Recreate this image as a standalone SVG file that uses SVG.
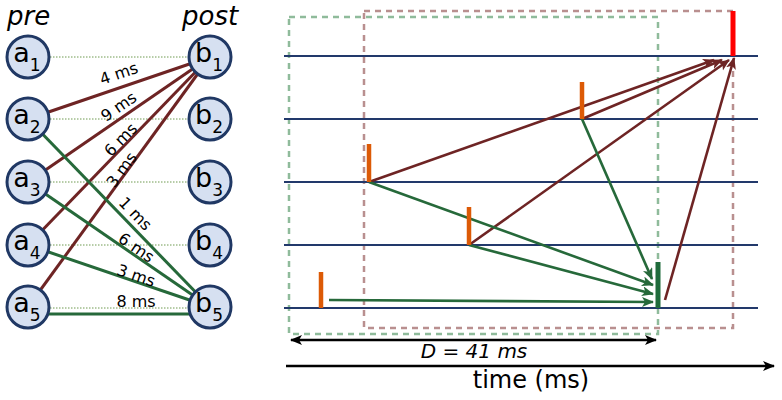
<svg xmlns="http://www.w3.org/2000/svg" width="782" height="400" viewBox="0 0 782 400">
<style>
text{font-family:"DejaVu Sans","Verdana",sans-serif;fill:#000}
.node circle{fill:#d6e0f1;stroke:#203864;stroke-width:3}
.lbl{font-size:27px}
.sub{font-size:17px}
.el{font-size:16px;text-anchor:middle}
.dot{stroke:#6f9a50;stroke-width:1;stroke-dasharray:1.5 1.5}
.mar{stroke:#6e2424;stroke-width:3;fill:none}
.grn{stroke:#26693a;stroke-width:3;fill:none}
.row{stroke:#22396b;stroke-width:2}
.am{stroke:#6e2424;stroke-width:2.6;fill:none;marker-end:url(#hm)}
.ag{stroke:#26693a;stroke-width:2.6;fill:none;marker-end:url(#hg)}
.spk{stroke:#dc5a06;stroke-width:4.5}
</style>
<defs>
<marker id="hm" markerUnits="userSpaceOnUse" markerWidth="14" markerHeight="12" refX="11" refY="5" orient="auto"><path d="M0,0 L12,5 L0,10 L3,5 z" fill="#6e2424"/></marker>
<marker id="hg" markerUnits="userSpaceOnUse" markerWidth="14" markerHeight="12" refX="11" refY="5" orient="auto"><path d="M0,0 L12,5 L0,10 L3,5 z" fill="#26693a"/></marker>
<marker id="hk" markerUnits="userSpaceOnUse" markerWidth="14" markerHeight="12" refX="11" refY="5" orient="auto-start-reverse"><path d="M0,0 L12,5 L0,10 L3,5 z" fill="#000"/></marker>
</defs>

<text x="7" y="25" font-size="26" font-style="italic">pre</text>
<text x="182" y="25" font-size="26" font-style="italic">post</text>

<g id="connectors">
<line class="dot" x1="50" y1="57" x2="188" y2="57"/>
<line class="dot" x1="50" y1="119" x2="188" y2="119"/>
<line class="dot" x1="50" y1="182" x2="188" y2="182"/>
<line class="dot" x1="50" y1="245" x2="188" y2="245"/>
<line class="dot" x1="50" y1="308" x2="188" y2="308"/>
<line class="mar" x1="28" y1="119" x2="210" y2="57"/>
<line class="mar" x1="28" y1="182" x2="210" y2="57"/>
<line class="mar" x1="28" y1="245" x2="210" y2="57"/>
<line class="mar" x1="28" y1="307" x2="210" y2="57"/>
<line class="grn" x1="28" y1="119" x2="210" y2="307"/>
<line class="grn" x1="28" y1="182" x2="210" y2="307"/>
<line class="grn" x1="28" y1="245" x2="210" y2="307"/>
<line class="grn" x1="28" y1="314" x2="210" y2="314"/>
<text class="el" transform="translate(120.6,78.7) rotate(-18.8)">4 ms</text>
<text class="el" transform="translate(121.8,111.1) rotate(-34.5)">9 ms</text>
<text class="el" transform="translate(124.6,143.5) rotate(-45.9)">6 ms</text>
<text class="el" transform="translate(126,173) rotate(-53.9)">3 ms</text>
<text class="el" transform="translate(131.4,217.5) rotate(45.9)">1 ms</text>
<text class="el" transform="translate(133.2,252.1) rotate(34.5)">6 ms</text>
<text class="el" transform="translate(134.4,280.7) rotate(18.8)">3 ms</text>
<text class="el" x="136" y="307">8 ms</text>
</g>

<g id="a1" class="node"><circle cx="28" cy="57" r="21"/><text x="27" y="62" text-anchor="middle"><tspan class="lbl">a</tspan><tspan class="sub" dy="9">1</tspan></text></g>
<g id="a2" class="node"><circle cx="28" cy="119" r="21"/><text x="27" y="124" text-anchor="middle"><tspan class="lbl">a</tspan><tspan class="sub" dy="9">2</tspan></text></g>
<g id="a3" class="node"><circle cx="28" cy="182" r="21"/><text x="27" y="187" text-anchor="middle"><tspan class="lbl">a</tspan><tspan class="sub" dy="9">3</tspan></text></g>
<g id="a4" class="node"><circle cx="28" cy="245" r="21"/><text x="27" y="250" text-anchor="middle"><tspan class="lbl">a</tspan><tspan class="sub" dy="9">4</tspan></text></g>
<g id="a5" class="node"><circle cx="28" cy="307" r="21"/><text x="27" y="312" text-anchor="middle"><tspan class="lbl">a</tspan><tspan class="sub" dy="9">5</tspan></text></g>
<g id="b1" class="node"><circle cx="210" cy="57" r="21"/><text x="209" y="62" text-anchor="middle"><tspan class="lbl">b</tspan><tspan class="sub" dy="9">1</tspan></text></g>
<g id="b2" class="node"><circle cx="210" cy="119" r="21"/><text x="209" y="124" text-anchor="middle"><tspan class="lbl">b</tspan><tspan class="sub" dy="9">2</tspan></text></g>
<g id="b3" class="node"><circle cx="210" cy="182" r="21"/><text x="209" y="187" text-anchor="middle"><tspan class="lbl">b</tspan><tspan class="sub" dy="9">3</tspan></text></g>
<g id="b4" class="node"><circle cx="210" cy="245" r="21"/><text x="209" y="250" text-anchor="middle"><tspan class="lbl">b</tspan><tspan class="sub" dy="9">4</tspan></text></g>
<g id="b5" class="node"><circle cx="210" cy="307" r="21"/><text x="209" y="312" text-anchor="middle"><tspan class="lbl">b</tspan><tspan class="sub" dy="9">5</tspan></text></g>

<g id="timeline">
<rect x="289" y="17" width="369" height="317" fill="none" stroke="#8fbb9b" stroke-width="2.5" stroke-dasharray="6 5"/>
<rect x="364" y="11" width="369" height="317" fill="none" stroke="#b98f8f" stroke-width="2.5" stroke-dasharray="6 5"/>
<line class="row" x1="284" y1="56" x2="758" y2="56"/>
<line class="row" x1="284" y1="119" x2="758" y2="119"/>
<line class="row" x1="284" y1="182" x2="758" y2="182"/>
<line class="row" x1="284" y1="245" x2="758" y2="245"/>
<line class="row" x1="284" y1="308" x2="758" y2="308"/>
<line class="am" x1="369" y1="182" x2="714" y2="60"/>
<line class="am" x1="582" y1="119" x2="722" y2="60"/>
<line class="am" x1="469" y1="245" x2="729" y2="60"/>
<line class="am" x1="665" y1="300" x2="734" y2="58"/>
<line class="ag" x1="369" y1="182" x2="653" y2="285"/>
<line class="ag" x1="469" y1="245" x2="653" y2="294"/>
<line class="ag" x1="329" y1="300" x2="653" y2="302"/>
<line class="ag" x1="582" y1="119" x2="652" y2="279"/>
<line class="spk" x1="369" y1="144" x2="369" y2="182"/>
<line class="spk" x1="582" y1="82" x2="582" y2="119"/>
<line class="spk" x1="469" y1="207" x2="469" y2="245"/>
<line class="spk" x1="321" y1="272" x2="321" y2="308"/>
<line x1="733" y1="11" x2="733" y2="56" stroke="#ff0000" stroke-width="5"/>
<line x1="658" y1="262" x2="658" y2="308" stroke="#1f6b3b" stroke-width="5"/>
<line x1="291" y1="340" x2="656" y2="340" stroke="#000" stroke-width="2.5" marker-start="url(#hk)" marker-end="url(#hk)"/>
<text x="474" y="358" font-size="20" font-style="italic" text-anchor="middle">D = 41 ms</text>
<line x1="286" y1="366" x2="774" y2="366" stroke="#000" stroke-width="2.5" marker-end="url(#hk)"/>
<text x="531" y="388" font-size="24" text-anchor="middle">time (ms)</text>
</g>
</svg>
